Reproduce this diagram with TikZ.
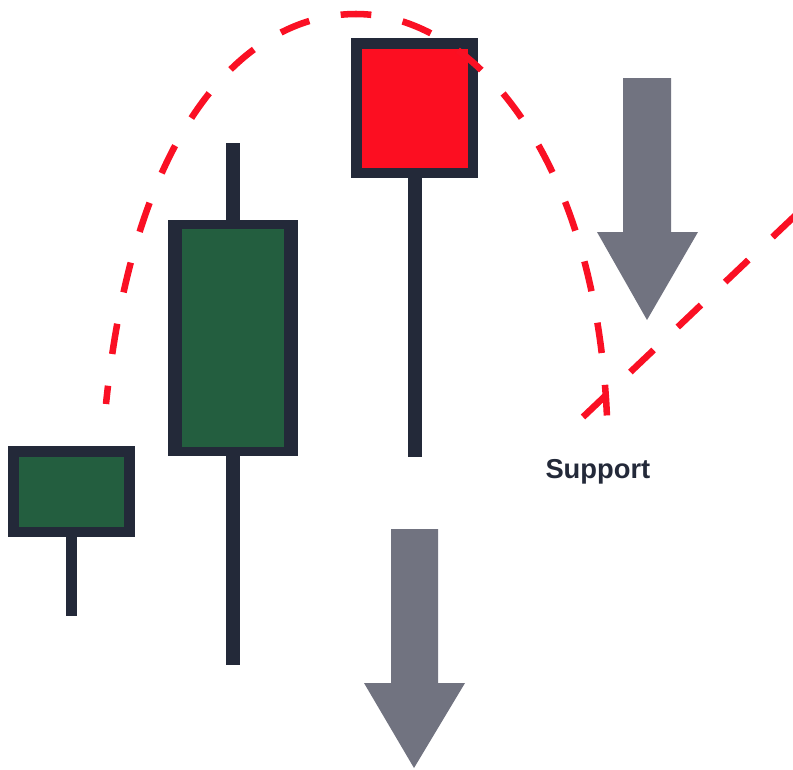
\documentclass[tikz,border=0pt]{standalone}
\usepackage{fontspec}
\setmainfont{Liberation Sans}

\definecolor{candleedge}{RGB}{35,41,57}
\definecolor{candlegreen}{RGB}{35,94,63}
\definecolor{candlered}{RGB}{252,14,33}
\definecolor{trendred}{RGB}{250,16,36}
\definecolor{arrowgray}{RGB}{113,115,128}

\tikzset{every picture/.style={line width=0.75pt}}
\tikzset{
  wickbar/.style={fill=candleedge},
  bodyedge/.style={fill=candleedge},
  downarrow/.style={fill=arrowgray},
  trendline/.style={draw=trendred, line width=4.9pt, dash pattern=on 24pt off 25pt},
  archline/.style={trendline, dash pattern=on 23pt off 24pt, dash phase=11.5pt},
}

\begin{document}
\begin{tikzpicture}[x=0.75pt,y=0.75pt,yscale=-1,xscale=1]
\clip (0,0) rectangle (793,769);

%Shape: Wicks
\fill[wickbar] (66,537) rectangle (77,616);
\fill[wickbar] (226,143) rectangle (240,665);
\fill[wickbar] (408,178) rectangle (422,457);

%Shape: Rectangle (first green candle)
\fill[bodyedge] (8,446) rectangle (135,537);
\fill[candlegreen] (19,457) rectangle (124,527);
%Shape: Rectangle (second green candle)
\fill[bodyedge] (168,220) rectangle (298,456);
\fill[candlegreen] (182,229) rectangle (284,447);
%Shape: Rectangle (red candle)
\fill[bodyedge] (351,38) rectangle (478,178);
\fill[candlered] (362,49) rectangle (468,168);

%Shape: Down Arrow (right)
\fill[downarrow] (623,78) -- (671,78) -- (671,232) -- (698,232) -- (647,320) -- (597,232) -- (623,232) -- cycle;
%Shape: Down Arrow (bottom)
\fill[downarrow] (391,529) -- (438,529) -- (438,683) -- (465,683) -- (414,768) -- (364,683) -- (391,683) -- cycle;

%Curve Lines (from the top, both ways)
\coordinate (peak) at (356,14);
\draw[archline] (peak) .. controls (250,14) and (135,120) .. (106,404);
\draw[archline] (peak) .. controls (470,14) and (595,150) .. (607,417);
%Straight Lines
\draw[trendline] (583,417) -- (820,192);

% Text Node
\node[anchor=base west, inner sep=0pt, text=candleedge, font=\fontsize{20.5}{24}\selectfont\bfseries] (support) at (545,478) {Support};

\end{tikzpicture}
\end{document}
